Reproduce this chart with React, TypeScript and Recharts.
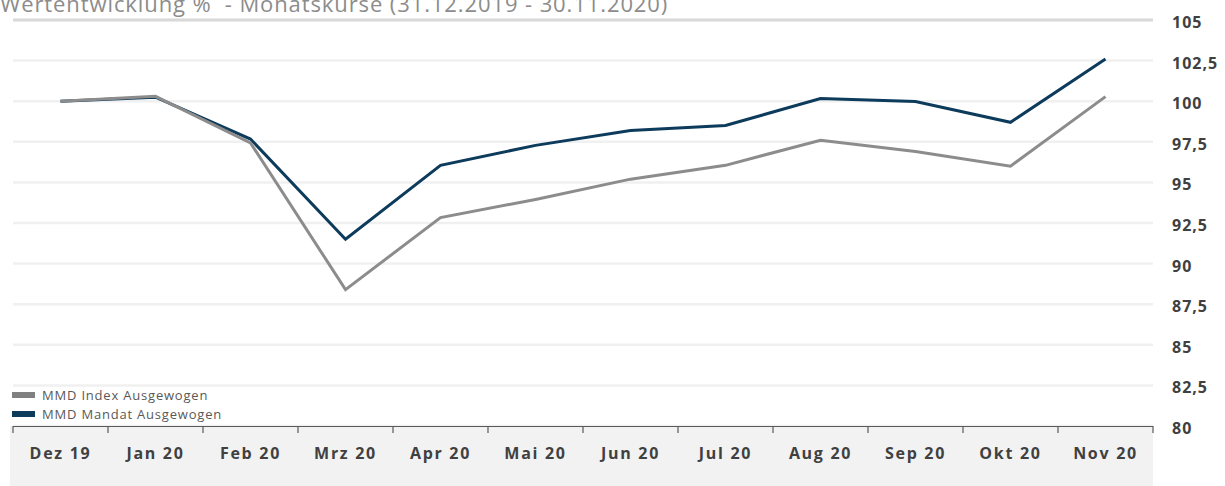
import React from "react";
import { LineChart, Line, XAxis, YAxis, CartesianGrid, ReferenceLine } from "recharts";

const months = ["Dez 19", "Jan 20", "Feb 20", "Mrz 20", "Apr 20", "Mai 20", "Jun 20", "Jul 20", "Aug 20", "Sep 20", "Okt 20", "Nov 20"];
const mandat = [100, 100.25, 97.67, 91.5, 96.05, 97.28, 98.2, 98.5, 100.17, 99.98, 98.7, 102.6];
const index = [100, 100.3, 97.43, 88.4, 92.83, 93.95, 95.2, 96.05, 97.6, 96.9, 96.0, 100.28];
const yTicks = [80, 82.5, 85, 87.5, 90, 92.5, 95, 97.5, 100, 102.5, 105];
const seriesNames = { index: "MMD Index Ausgewogen", mandat: "MMD Mandat Ausgewogen" };
const title = "Wertentwicklung %  - Monatskurse (31.12.2019 - 30.11.2020)";

const data = months.map((m, i) => ({ month: m, mandat: mandat[i], index: index[i] }));

const BAND = 95;
const LAST = months[months.length - 1];

const XTick = (props: any) => {
  const { x, y, payload } = props;
  const left = x - BAND / 2;
  const right = x + BAND / 2;
  return (
    <g>
      <line x1={left} x2={right} y1={y + 0.5} y2={y + 0.5} stroke="#595959" strokeWidth={1.2} />
      <line x1={left} x2={left} y1={y} y2={y + 7} stroke="#595959" strokeWidth={1.2} />
      {payload.value === LAST && (
        <line x1={right} x2={right} y1={y} y2={y + 7} stroke="#595959" strokeWidth={1.2} />
      )}
      <text
        x={x}
        y={y + 27}
        textAnchor="middle"
        dominantBaseline="central"
        fontFamily="'Open Sans', sans-serif"
        fontWeight={700}
        fontSize={16}
        letterSpacing={1.7}
        fill="#404040"
      >
        {payload.value}
      </text>
    </g>
  );
};

const YTick = (props: any) => {
  const { x, y, payload } = props;
  return (
    <text
      x={x}
      y={y + 2}
      textAnchor="start"
      dominantBaseline="central"
      fontFamily="'Open Sans', sans-serif"
      fontWeight={700}
      fontSize={16}
      letterSpacing={1}
      fill="#404040"
    >
      {String(payload.value).replace(".", ",")}
    </text>
  );
};

const legendItems = [
  { name: seriesNames.index, color: "#808080" },
  { name: seriesNames.mandat, color: "#0d3b5c" },
];

export default function App() {
  return (
    <div style={{ position: "absolute", left: 0, top: 0, width: 1225, height: 486, background: "#fff", overflow: "hidden" }}>
      <div style={{ position: "absolute", left: 10, top: 426, width: 1143, height: 60, background: "#f2f2f2" }} />
      <div style={{ position: "absolute", left: 0, top: 0 }}>
        <LineChart width={1225} height={486} data={data} margin={{ top: 20, right: 0, bottom: 0, left: 13 }}>
          <CartesianGrid horizontal vertical={false} stroke="#f0f0f0" strokeWidth={2.5} />
          <ReferenceLine y={105} stroke="#d9d9d9" strokeWidth={3} />
          <XAxis
            dataKey="month"
            scale="band"
            height={60}
            axisLine={false}
            tickLine={false}
            tickSize={0}
            tickMargin={0}
            interval={0}
            tick={<XTick />}
          />
          <YAxis
            orientation="right"
            width={72}
            domain={[80, 105]}
            ticks={yTicks}
            axisLine={false}
            tickLine={false}
            tickSize={0}
            tickMargin={19}
            interval={0}
            tick={<YTick />}
          />
          <Line dataKey="mandat" name={seriesNames.mandat} stroke="#0d3b5c" strokeWidth={3} dot={false} isAnimationActive={false} />
          <Line dataKey="index" name={seriesNames.index} stroke="#8c8c8c" strokeWidth={3} dot={false} isAnimationActive={false} />
        </LineChart>
      </div>
      <div style={{ position: "absolute", left: 12, top: 385, fontFamily: "'Open Sans', sans-serif", fontSize: 13, letterSpacing: 0.8, color: "#595959" }}>
        {legendItems.map((it) => (
          <div key={it.name} style={{ display: "flex", alignItems: "center", height: 19 }}>
            <span style={{ display: "inline-block", width: 23, height: 6, background: it.color, marginRight: 7 }} />
            <span>{it.name}</span>
          </div>
        ))}
      </div>
      <div
        style={{
          position: "absolute",
          left: 0,
          top: -11,
          fontFamily: "'Open Sans', sans-serif",
          fontSize: 22,
          letterSpacing: 0.9,
          color: "#8c8c8c",
          whiteSpace: "pre",
          lineHeight: "28px",
        }}
      >
        {title}
      </div>
    </div>
  );
}
